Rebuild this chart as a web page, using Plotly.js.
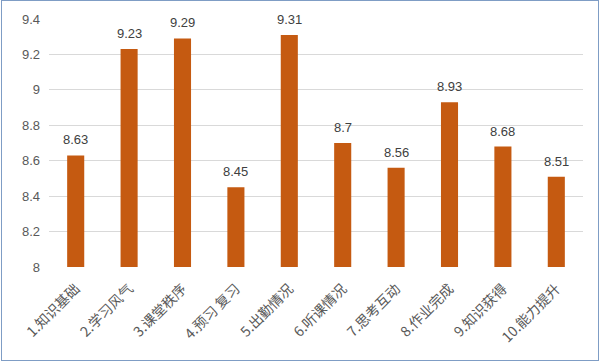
<!DOCTYPE html>
<html><head><meta charset="utf-8">
<script src="https://cdn.plot.ly/plotly-3.0.1.min.js"></script>
<style>body{margin:0;background:#fff}#wrap{position:relative;width:602px;height:362px}
#border{position:absolute;left:1px;top:0;width:596px;height:359px;border:1px solid #7F9DC5;pointer-events:none}</style>
</head><body>
<div id="wrap"><div id="chart" style="width:602px;height:362px"></div><div id="border"></div></div>
<script>
const categories = ["1.知识基础","2.学习风气","3.课堂秩序","4.预习 复习","5.出勤情况","6.听课情况","7.思考互动","8.作业完成","9.知识获得","10.能力提升"];
const values = [8.63, 9.23, 9.29, 8.45, 9.31, 8.70, 8.56, 8.93, 8.68, 8.51];
const valueLabels = ["8.63","9.23","9.29","8.45","9.31","8.7","8.56","8.93","8.68","8.51"];
const yTicks = [8, 8.2, 8.4, 8.6, 8.8, 9, 9.2, 9.4];

const font = "Liberation Sans, Arial, Noto Sans CJK SC, sans-serif";
const trace = {
  type: 'bar', x: categories, y: values,
  marker: {color: '#C55A11'}, width: 0.32, hoverinfo: 'none'
};
const annotations = categories.map((c, i) => ({
  x: c, y: values[i], text: valueLabels[i], showarrow: false,
  yanchor: 'bottom', yshift: 6, font: {family: font, size: 13, color: '#404040'}
}));
const layout = {
  width: 602, height: 362,
  margin: {l: 49, r: 19, t: 19, b: 95},
  paper_bgcolor: '#fff', plot_bgcolor: '#fff',
  showlegend: false,
  xaxis: {
    type: 'category', tickangle: -45, showgrid: false, ticks: '',
    showline: false, zeroline: false, ticklabelstandoff: 10,
    tickfont: {family: "Noto Sans CJK SC, sans-serif", size: 14, color: '#595959'}
  },
  yaxis: {
    range: [8, 9.4], tickvals: yTicks, ticktext: yTicks.map(String),
    showgrid: true, gridcolor: '#D9D9D9', gridwidth: 1, zeroline: false,
    showline: false, ticks: '', ticklabelstandoff: 8,
    tickfont: {family: font, size: 13, color: '#595959'}
  },
  annotations: annotations
};
Plotly.newPlot('chart', [trace], layout, {displayModeBar: false, staticPlot: true});
</script>
</body></html>
